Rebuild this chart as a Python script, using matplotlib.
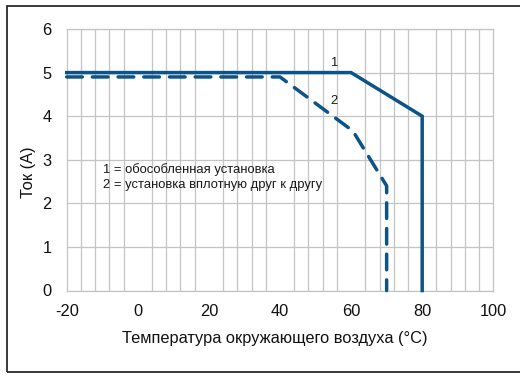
import matplotlib
matplotlib.use("Agg")
import matplotlib.pyplot as plt
from matplotlib.patches import Rectangle

plt.rcParams['font.family'] = ['Liberation Sans', 'DejaVu Sans']

# Data
temp_1 = [-20, 60, 80, 80]
current_1 = [5.0, 5.0, 4.0, 0.0]
temp_2 = [-20, 40, 60.5, 70, 70]
current_2 = [4.9, 4.9, 3.66, 2.4, 0.0]
x_ticks = [-20, 0, 20, 40, 60, 80, 100]
y_ticks = [0, 1, 2, 3, 4, 5, 6]
legend_lines = ["1 = обособленная установка", "2 = установка вплотную друг к другу"]
xlabel = "Температура окружающего воздуха (°C)"
ylabel = "Ток (A)"

W, H = 520, 376
fig = plt.figure(figsize=(W / 100, H / 100), dpi=100)
ax = fig.add_axes([66.7 / W, 1 - 290.5 / H, (493.3 - 66.7) / W, (290.5 - 29) / H])

color = '#0c5387'
grid_c = '#c4c4c4'
fs = 11.8
lw = 2.5

ax.set_xlim(-20, 100)
ax.set_ylim(0, 6)
ax.set_xticks(x_ticks)
ax.set_yticks(y_ticks)
ax.set_xticks(range(-20, 101, 4), minor=True)
ax.tick_params(which='both', length=0, labelsize=fs, colors='#111111')
ax.tick_params(axis='y', pad=11)
ax.tick_params(axis='x', pad=10)
ax.set_xticklabels([str(v) for v in x_ticks])
ax.grid(which='minor', axis='x', color=grid_c, lw=0.9, zorder=0)
ax.grid(which='major', axis='y', color=grid_c, lw=0.9, zorder=0)
for s in ax.spines.values():
    s.set_color(grid_c)
    s.set_linewidth(0.9)

# legend box covering grid
ax.add_patch(Rectangle((-12.6, 1.96), 66.6, 1.2, facecolor='white', edgecolor='none', zorder=1))
ax.text(-9.8, 2.77, legend_lines[0], fontsize=9.4, va='center', ha='left', zorder=2, color='#1a1a1a')
ax.text(-9.8, 2.42, legend_lines[1], fontsize=9.4, va='center', ha='left', zorder=2, color='#1a1a1a')

ax.plot(temp_1, current_1, color=color, lw=lw, solid_joinstyle='miter', zorder=3, clip_on=False)
ln, = ax.plot(temp_2, current_2, color=color, lw=lw, zorder=3, clip_on=False,
              dash_capstyle='round', dash_joinstyle='round')
ln.set_dashes((4.5, 2.9))

ax.text(55.1, 5.22, "1", fontsize=9.4, ha='center', va='center', color='#1a1a1a', zorder=4)
ax.text(55.1, 4.35, "2", fontsize=9.4, ha='center', va='center', color='#1a1a1a', zorder=4)

fig.text(29 / W, 1 - 172 / H, ylabel, rotation=90, fontsize=fs, ha='center', va='center', color='#111111')
fig.text(275 / W, 1 - 338 / H, xlabel, fontsize=fs, ha='center', va='center', color='#111111')

# outer frame
fig.patches.append(Rectangle((7 / W, 1 - 372 / H), 530 / W, (372 - 6) / H, transform=fig.transFigure,
                             facecolor='none', edgecolor='#2a2a2a', lw=1.3, figure=fig))

fig.savefig('out.png', dpi=100)
